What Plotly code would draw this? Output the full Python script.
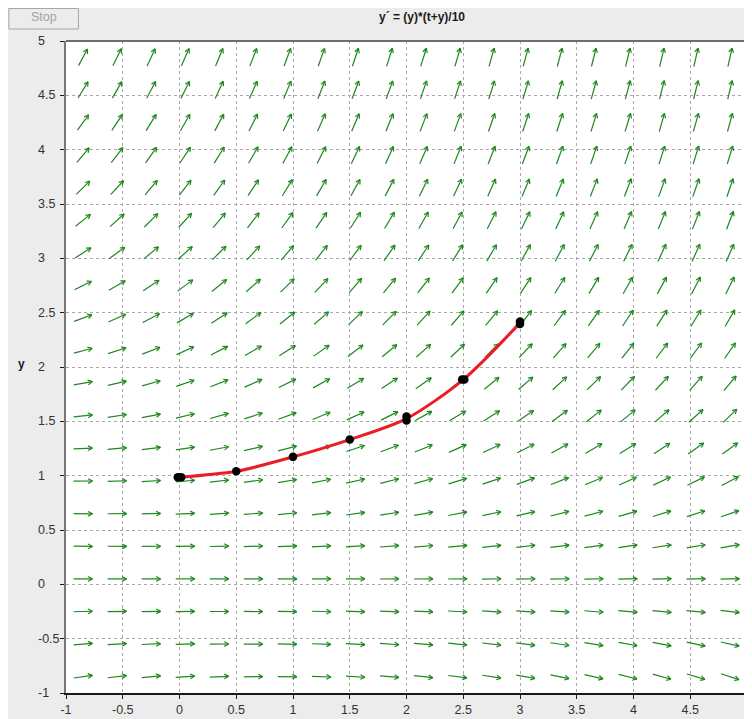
import math
import plotly.graph_objects as go

# ---------------- data ----------------
TITLE = "y´ = (y)*(t+y)/10"
X_TICKS = [-1, -0.5, 0, 0.5, 1, 1.5, 2, 2.5, 3, 3.5, 4, 4.5, 5]
X_TICK_LABELS = ["-1", "-0.5", "0", "0.5", "1", "1.5", "2", "2.5", "3", "3.5", "4", "4.5", "5"]
Y_TICKS = [-1, -0.5, 0, 0.5, 1, 1.5, 2, 2.5, 3, 3.5, 4, 4.5, 5]
Y_TICK_LABELS = ["-1", "-0.5", "0", "0.5", "1", "1.5", "2", "2.5", "3", "3.5", "4", "4.5", "5"]

# slope-field sample points
FIELD_T = [-0.85, -0.55, -0.25, 0.05, 0.35, 0.65, 0.95, 1.25, 1.55, 1.85,
           2.15, 2.45, 2.75, 3.05, 3.35, 3.65, 3.95, 4.25, 4.55, 4.85]
FIELD_Y = [-0.85, -0.55, -0.25, 0.05, 0.35, 0.65, 0.95, 1.25, 1.55, 1.85,
           2.15, 2.45, 2.75, 3.05, 3.35, 3.65, 3.95, 4.25, 4.55, 4.85]

# solution curve
SOL_T = [0.0, 0.5, 1.0, 1.5, 2.0, 2.5, 3.0]
SOL_Y = [0.985, 1.04, 1.173, 1.332, 1.525, 1.884, 2.406]

# plotted solution points (some overlap)
DOT_T = [-0.015, 0.015, 0.5, 1.0, 1.5, 2.0, 2.0, 2.49, 2.51, 3.0, 3.0]
DOT_Y = [0.985, 0.985, 1.04, 1.173, 1.332, 1.507, 1.544, 1.884, 1.884, 2.395, 2.418]


def slope(t, y):
    return y * (t + y) / 10.0


# ---------------- geometry ----------------
# page body margin of 8px shifts the figure; figure extends past the window
OFF = 8
W, H = 752, 719
ML, MR, MT, MB = 58, 9, 33, 34
PW, PH = W - ML - MR, H - MT - MB
X0, X1, Y0, Y1 = -1, 5, -1, 5
KX = PW / (X1 - X0)
KY = PH / (Y1 - Y0)

ARROW_LEN = 19.0
HEAD_LEN = 5.0
HEAD_ANG = math.radians(28)

ax, ay = [], []
for t in FIELD_T:
    for y in FIELD_Y:
        s = slope(t, y)
        dxp, dyp = KX, s * KY
        n = math.hypot(dxp, dyp)
        ux, uy = dxp / n, dyp / n
        hx, hy = ux * ARROW_LEN / 2, uy * ARROW_LEN / 2
        sx, sy = t - hx / KX, y - hy / KY
        ex, ey = t + hx / KX, y + hy / KY
        ax += [sx, ex, None]
        ay += [sy, ey, None]
        for sgn in (1, -1):
            ca, sa = math.cos(sgn * HEAD_ANG), math.sin(sgn * HEAD_ANG)
            bx = -(ux * ca - uy * sa) * HEAD_LEN
            by = -(ux * sa + uy * ca) * HEAD_LEN
            ax += [ex, ex + bx / KX, None]
            ay += [ey, ey + by / KY, None]

fig = go.Figure()
fig.add_trace(go.Scatter(x=ax, y=ay, mode="lines",
                         line=dict(color="#1e871e", width=1.2),
                         hoverinfo="skip", showlegend=False))
fig.add_trace(go.Scatter(x=SOL_T, y=SOL_Y, mode="lines",
                         line=dict(color="#ec1c24", width=3, shape="spline", smoothing=0.8),
                         hoverinfo="skip", showlegend=False))
fig.add_trace(go.Scatter(x=DOT_T, y=DOT_Y, mode="markers",
                         marker=dict(color="black", size=8.5),
                         hoverinfo="skip", showlegend=False))


# convert reference-window pixel positions to paper coords
def px_x(px):
    return (px - OFF - ML) / PW


def px_y(py):
    return 1 - (py - OFF - MT) / PH


shapes = [
    # Stop button
    dict(type="rect", xref="paper", yref="paper",
         x0=px_x(8.5), x1=px_x(78.5), y0=px_y(29), y1=px_y(8.5),
         fillcolor="#ececec", line=dict(color="#a6a6a6", width=1)),
    # top frame line
    dict(type="line", xref="paper", yref="paper", x0=0, x1=1, y0=1, y1=1,
         line=dict(color="#6e6e6e", width=2)),
]

annotations = [
    dict(text="Stop", xref="paper", yref="paper", x=px_x(44), y=px_y(17.5),
         showarrow=False, xanchor="center", yanchor="middle",
         font=dict(family="Liberation Sans, Arial", size=12.5, color="#a2a2a2")),
    dict(text="<b>" + TITLE + "</b>", xref="paper", yref="paper",
         x=px_x(424.5), y=px_y(17), showarrow=False,
         xanchor="center", yanchor="middle",
         font=dict(family="Liberation Sans, Arial", size=12, color="#1a1a1a")),
    dict(text="<b>y</b>", xref="paper", yref="paper",
         x=px_x(21.5), y=px_y(364), showarrow=False,
         xanchor="center", yanchor="middle",
         font=dict(family="Liberation Sans, Arial", size=12, color="#1a1a1a")),
]
for v, lab in zip(Y_TICKS, Y_TICK_LABELS):
    annotations.append(dict(text=lab, xref="paper", yref="y", x=px_x(35.5), y=v,
                            showarrow=False, xanchor="left", yanchor="middle",
                            font=dict(family="Liberation Sans, Arial", size=12.5, color="#333333")))

fig.update_layout(
    width=W, height=H,
    margin=dict(l=ML, r=MR, t=MT, b=MB, pad=0),
    paper_bgcolor="#ececec",
    plot_bgcolor="white",
    shapes=shapes,
    annotations=annotations,
    xaxis=dict(range=[X0, X1], tickvals=X_TICKS, ticktext=X_TICK_LABELS,
               ticklabeloverflow="allow",
               showgrid=True, gridcolor="#a8a8a8", griddash="dot", gridwidth=1,
               zeroline=False, showline=True, linecolor="#1a1a1a", linewidth=2,
               ticks="outside", ticklen=4, tickcolor="#1a1a1a", tickwidth=1,
               tickfont=dict(family="Liberation Sans, Arial", size=12.5, color="#333333"),
               fixedrange=True),
    yaxis=dict(range=[Y0, Y1], tickvals=Y_TICKS, showticklabels=False,
               showgrid=True, gridcolor="#a8a8a8", griddash="dot", gridwidth=1,
               zeroline=False, showline=True, linecolor="#777777", linewidth=2,
               ticks="outside", ticklen=4, tickcolor="#1a1a1a", tickwidth=1,
               fixedrange=True),
)

fig.write_html("out.html")
